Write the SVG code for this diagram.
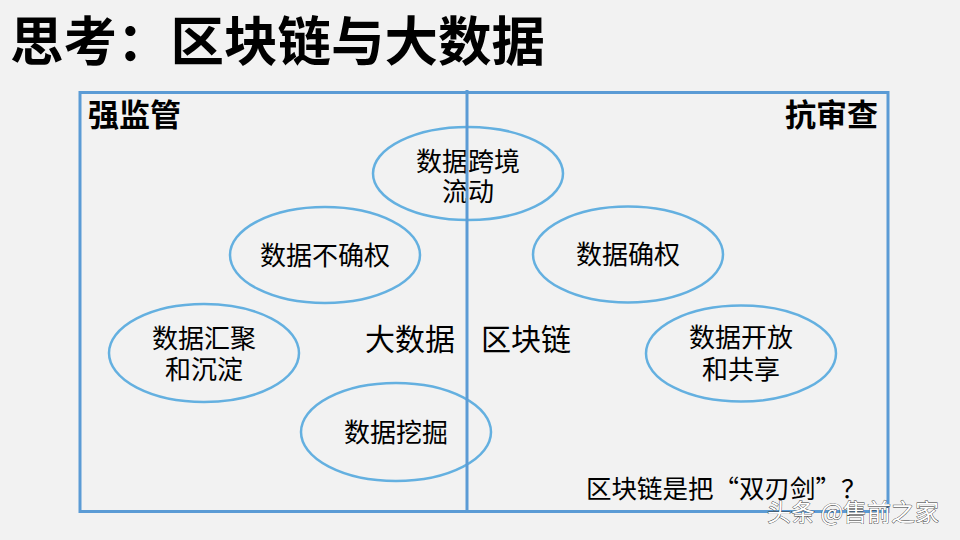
<svg xmlns="http://www.w3.org/2000/svg" width="960" height="540" viewBox="0 0 960 540">
<style>
text{font-family:"Microsoft YaHei","Noto Sans CJK SC","Noto Sans",sans-serif;fill:#000;dominant-baseline:central}
.n text{font-size:26px;text-anchor:middle}
.n ellipse{fill:none;stroke:#64b0e0;stroke-width:2.5}
.frame{fill:none;stroke:#5b9bd5;stroke-width:3}
.hd{font-size:31px;font-weight:bold}
.mid{font-size:30px;text-anchor:middle}
</style>
<rect width="960" height="540" fill="#f2f2f2"/>
<text x="10" y="37" style="font-size:53.5px;font-weight:bold">思考：区块链与大数据</text>

<g id="nodes" class="n">
<g id="n1"><ellipse cx="468" cy="173.5" rx="95" ry="46.5"/><text x="468" y="159">数据跨境</text><text x="468" y="189">流动</text></g>
<g id="n2"><ellipse cx="325" cy="255" rx="95" ry="48"/><text x="325" y="253">数据不确权</text></g>
<g id="n3"><ellipse cx="628" cy="254.5" rx="95" ry="48"/><text x="628" y="252">数据确权</text></g>
<g id="n4"><ellipse cx="204" cy="353" rx="95" ry="49"/><text x="204" y="336">数据汇聚</text><text x="204" y="367">和沉淀</text></g>
<g id="n5"><ellipse cx="741" cy="353.5" rx="95" ry="48"/><text x="741" y="335">数据开放</text><text x="741" y="367">和共享</text></g>
<g id="n6"><ellipse cx="396" cy="432" rx="95" ry="49"/><text x="396" y="430">数据挖掘</text></g>
</g>

<g id="connectors">
<rect class="frame" x="80" y="92.5" width="808" height="419"/>
<line class="frame" x1="467" y1="90" x2="467" y2="513"/>
</g>

<text class="hd" x="88" y="112">强监管</text>
<text class="hd" x="878" y="112" text-anchor="end">抗审查</text>
<text class="mid" x="410" y="337">大数据</text>
<text class="mid" x="526" y="337">区块链</text>
<text x="586" y="486" style="font-size:25.5px">区块链是把“双刃剑”？</text>
<text x="767" y="510" style="font-size:24px;fill:#fff;stroke:#333;stroke-width:0.8;paint-order:stroke">头条 @售前之家</text>
</svg>
